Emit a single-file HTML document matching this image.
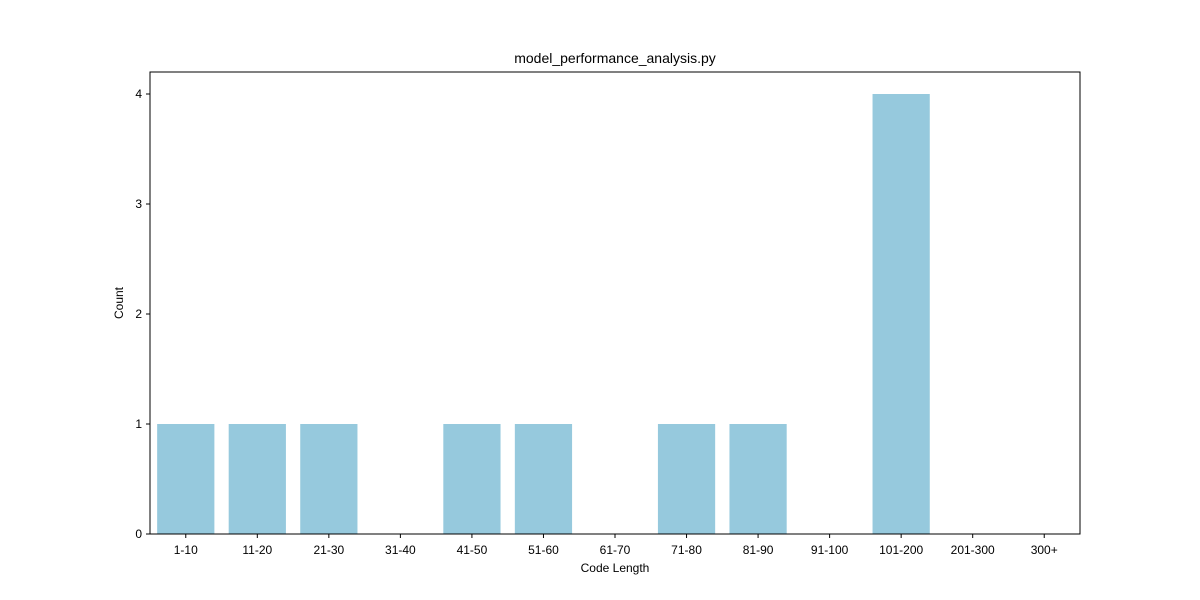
<!DOCTYPE html>
<html><head><meta charset="utf-8"><style>
body{margin:0;background:#fff;}
svg{display:block;font-family:"Liberation Sans","DejaVu Sans",sans-serif;}
</style></head><body>
<svg id="chart" width="1200" height="600">
<text x="615" y="63" text-anchor="middle" font-size="14" fill="#000">model_performance_analysis.py</text>
<g id="bars"></g>
<g id="xticks"></g>
<g id="yticks"></g>
<rect x="150" y="72" width="930" height="462" fill="none" stroke="#000" stroke-width="1"/>
<text x="615" y="572" text-anchor="middle" font-size="12">Code Length</text>
<text x="123" y="303" text-anchor="middle" font-size="12" transform="rotate(-90 123 303)">Count</text>
</svg>
<script>
const categories=["1-10","11-20","21-30","31-40","41-50","51-60","61-70","71-80","81-90","91-100","101-200","201-300","300+"];
const counts=[1,1,1,0,1,1,0,1,1,0,4,0,0];
const yTicks=[0,1,2,3,4];
const NS="http://www.w3.org/2000/svg";
const L=150,R=1080,T=72,B=534,yMax=4.2;
const bw=(R-L)/categories.length;
const x=i=>L+bw*(i+0.5);
const y=v=>B-(v/yMax)*(B-T);
const bars=document.getElementById('bars'),xt=document.getElementById('xticks'),yt=document.getElementById('yticks');
categories.forEach((c,i)=>{
 const r=document.createElementNS(NS,'rect');
 r.setAttribute('x',x(i)-bw*0.4);r.setAttribute('width',bw*0.8);
 r.setAttribute('y',y(counts[i]));r.setAttribute('height',B-y(counts[i]));
 r.setAttribute('fill','#96c9dd');
 
 
 bars.appendChild(r);
 const l=document.createElementNS(NS,'line');
 l.setAttribute('x1',x(i));l.setAttribute('x2',x(i));l.setAttribute('y1',B);l.setAttribute('y2',B+4);l.setAttribute('stroke','#000');
 
 
 xt.appendChild(l);
 const t=document.createElementNS(NS,'text');
 t.setAttribute('x',x(i));t.setAttribute('y',B+20);t.setAttribute('text-anchor','middle');t.setAttribute('font-size','12');
 t.textContent=c;
 
 
 xt.appendChild(t);
});
yTicks.forEach(v=>{
 const l=document.createElementNS(NS,'line');
 l.setAttribute('x1',L-4);l.setAttribute('x2',L);l.setAttribute('y1',y(v));l.setAttribute('y2',y(v));l.setAttribute('stroke','#000');
 
 
 yt.appendChild(l);
 const t=document.createElementNS(NS,'text');
 t.setAttribute('x',L-8);t.setAttribute('y',y(v)+4);t.setAttribute('text-anchor','end');t.setAttribute('font-size','12');
 t.textContent=v;
 
 
 yt.appendChild(t);
});
</script>
</body></html>
